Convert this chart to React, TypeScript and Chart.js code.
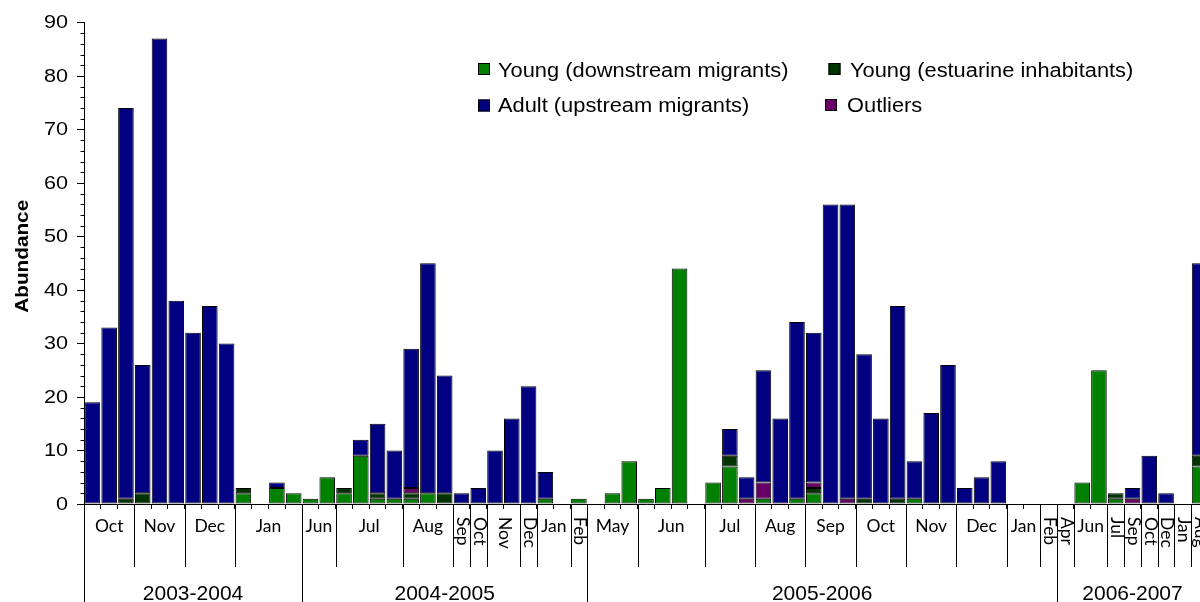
import React, { useEffect, useRef } from 'react';
import { Chart, registerables } from 'chart.js';

Chart.register(...registerables);

// ---- Data (one value per sampling bar, left to right) ----
const youngDown = [0, 0, 0, 0, 0, 0, 0, 0, 0, 2, 0, 3, 2,
  1, 5, 2, 9, 1, 1, 1, 2, 0, 0, 0, 0, 0, 0, 1, 0, 1,
  0, 2, 8, 1, 3, 44, 0, 4, 7, 0, 1, 0, 1, 2, 0, 0, 0, 0, 0, 1, 0, 0, 0, 0, 0, 0, 0, 0,
  0, 4, 25, 1, 0, 0, 0, 0, 7];
const youngEst = [0, 0, 1, 2, 0, 0, 0, 0, 0, 1, 0, 0, 0,
  0, 0, 1, 0, 1, 0, 1, 0, 2, 0, 0, 0, 0, 0, 0, 0, 0,
  0, 0, 0, 0, 0, 0, 0, 0, 2, 0, 0, 0, 0, 1, 0, 0, 1, 0, 1, 0, 0, 0, 0, 0, 0, 0, 0, 0,
  0, 0, 0, 1, 0, 0, 0, 0, 2];
const outliers = [0, 0, 0, 0, 0, 0, 0, 0, 0, 0, 0, 0, 0,
  0, 0, 0, 0, 0, 0, 1, 0, 0, 0, 0, 0, 0, 0, 0, 0, 0,
  0, 0, 0, 0, 0, 0, 0, 0, 0, 1, 3, 0, 0, 1, 0, 1, 0, 0, 0, 0, 0, 0, 0, 0, 0, 0, 0, 0,
  0, 0, 0, 0, 1, 0, 0, 0, 0];
const adult = [19, 33, 73, 24, 87, 38, 32, 37, 30, 0, 0, 1, 0,
  0, 0, 0, 3, 13, 9, 26, 43, 22, 2, 3, 10, 16, 22, 5, 0, 0,
  0, 0, 0, 0, 0, 0, 0, 0, 5, 4, 21, 16, 33, 28, 56, 55, 27, 16, 36, 7, 17, 26, 3, 5, 8, 0, 0, 0,
  0, 0, 0, 0, 2, 9, 2, 0, 36];

// month groups: [label, number of bars, vertical label]
const monthGroups: [string, number, boolean][] = [
  ['Oct', 3, false], ['Nov', 3, false], ['Dec', 3, false], ['Jan', 4, false],
  ['Jun', 2, false], ['Jul', 4, false], ['Aug', 3, false], ['Sep', 1, true], ['Oct', 1, true],
  ['Nov', 2, true], ['Dec', 1, true], ['Jan', 2, false], ['Feb', 1, true],
  ['May', 3, false], ['Jun', 4, false], ['Jul', 3, false], ['Aug', 3, false], ['Sep', 3, false],
  ['Oct', 3, false], ['Nov', 3, false], ['Dec', 3, false], ['Jan', 2, false], ['Feb', 1, true],
  ['Apr', 1, true], ['Jun', 2, false], ['Jul', 1, true], ['Sep', 1, true], ['Oct', 1, true],
  ['Dec', 1, true], ['Jan', 1, true], ['Aug', 1, true],
];
// year groups: [label, number of bars]
const yearGroups: [string, number][] = [
  ['2003-2004', 13], ['2004-2005', 17], ['2005-2006', 28], ['2006-2007', 9],
];
const yMax = 90;
const yStep = 10;
const yMinorStep = 2;
const yTitle = 'Abundance';

const GREEN = '#008000';
const DKGREEN = '#003300';
const PURPLE = '#660066';
const NAVY = '#000080';

const legendItems: { text: string; color: string; sx: number; sy: number; tx: number; ty: number }[] = [
  { text: 'Young (downstream migrants)', color: GREEN, sx: 478, sy: 63, tx: 498, ty: 76.5 },
  { text: 'Young (estuarine inhabitants)', color: DKGREEN, sx: 828.5, sy: 63, tx: 850, ty: 76.5 },
  { text: 'Adult (upstream migrants)', color: NAVY, sx: 478, sy: 99.5, tx: 498, ty: 111.5 },
  { text: 'Outliers', color: PURPLE, sx: 825, sy: 99, tx: 847, ty: 112 },
];

// category labels built from the groups
const categories: string[] = (() => {
  const out: string[] = [];
  let yi = 0, left = yearGroups[0][1];
  monthGroups.forEach(([m, n]) => {
    for (let k = 0; k < n; k++) {
      while (left === 0) { yi++; left = yearGroups[yi][1]; }
      out.push(m + ' ' + yearGroups[yi][0]);
      left--;
    }
  });
  return out;
})();

function drawText(ctx: CanvasRenderingContext2D, text: string, x: number, y: number, font: string,
  align: CanvasTextAlign, baseline: CanvasTextBaseline, sx = 1, rot = 0) {
  ctx.save();
  ctx.translate(x, y);
  if (rot) ctx.rotate(rot);
  ctx.scale(sx, 1);
  ctx.font = font;
  ctx.textAlign = align;
  ctx.textBaseline = baseline;
  ctx.fillStyle = '#000';
  ctx.fillText(text, 0, 0);
  ctx.restore();
}

function line(ctx: CanvasRenderingContext2D, x1: number, y1: number, x2: number, y2: number) {
  ctx.beginPath();
  ctx.moveTo(x1, y1);
  ctx.lineTo(x2, y2);
  ctx.stroke();
}

const decorPlugin = {
  id: 'decor',
  afterDraw(chart: any) {
    const { ctx, chartArea, scales } = chart;
    const x = scales.x, y = scales.y;
    const half = (x.getPixelForValue(1) - x.getPixelForValue(0)) / 2;
    const edge = (i: number) => Math.round(x.getPixelForValue(i) - half) + 0.5;
    const base = chartArea.bottom;
    const H = chart.height;
    ctx.save();
    ctx.strokeStyle = '#000';
    ctx.lineWidth = 1;

    // minor y ticks + y labels
    const axX = Math.round(chartArea.left) + 0.5;
    for (let v = 0; v <= yMax; v += yMinorStep) {
      if (v % yStep !== 0) {
        const py = Math.round(y.getPixelForValue(v)) + 0.5;
        line(ctx, axX - 4, py, axX, py);
      }
    }
    y.ticks.forEach((t: any) => {
      drawText(ctx, String(t.value), 68, y.getPixelForValue(t.value) + 1, '18px "Liberation Sans", Arial, sans-serif', 'right', 'middle', 1.2);
    });
    drawText(ctx, yTitle, 28, (chartArea.top + base) / 2 - 7, 'bold 18.5px "Liberation Sans", Arial, sans-serif', 'center', 'alphabetic', 1.12, -Math.PI / 2);

    // month groups
    let idx = 0;
    monthGroups.forEach(([label, n, vert]) => {
      const x1 = edge(idx + n);
      const cx = (x.getPixelForValue(idx) + x.getPixelForValue(idx + n - 1)) / 2;
      if (vert) {
        drawText(ctx, label, cx + 1, base + 13, '17.5px Lato, "Open Sans", sans-serif', 'left', 'middle', 1, Math.PI / 2);
      } else {
        drawText(ctx, label, cx, base + 27.5, '17.5px Lato, "Open Sans", sans-serif', 'center', 'alphabetic');
      }
      idx += n;
      line(ctx, x1, base, x1, base + 63);
    });

    // year groups
    idx = 0;
    line(ctx, edge(0), base, edge(0), H);
    yearGroups.forEach(([label, n]) => {
      const cx = (x.getPixelForValue(idx) + x.getPixelForValue(idx + n - 1)) / 2;
      drawText(ctx, label, cx, 600, '21px "Liberation Sans", Arial, sans-serif', 'center', 'alphabetic');
      idx += n;
      line(ctx, edge(idx), base, edge(idx), H);
    });

    // legend
    legendItems.forEach((it) => {
      ctx.fillStyle = it.color;
      ctx.fillRect(it.sx, it.sy, 12, 12);
      ctx.strokeStyle = '#000';
      ctx.strokeRect(it.sx + 0.5, it.sy + 0.5, 11, 11);
      drawText(ctx, it.text, it.tx, it.ty, '19.5px "Liberation Sans", Arial, sans-serif', 'left', 'alphabetic', 1.12);
    });
    ctx.restore();
  },
};

export default function App() {
  const ref = useRef<HTMLCanvasElement | null>(null);
  useEffect(() => {
    if (!ref.current) return;
    const z = (v: number) => (v === 0 ? null : v);
    const common = { borderColor: '#000', borderWidth: 1, borderSkipped: false, barPercentage: 0.93, categoryPercentage: 1, stack: 's' };
    const chart = new Chart(ref.current, {
      type: 'bar',
      data: {
        labels: categories,
        datasets: [
          { label: 'Young (downstream migrants)', data: youngDown.map(z), backgroundColor: GREEN, ...common },
          { label: 'Young (estuarine inhabitants)', data: youngEst.map(z), backgroundColor: DKGREEN, ...common },
          { label: 'Outliers', data: outliers.map(z), backgroundColor: PURPLE, ...common },
          { label: 'Adult (upstream migrants)', data: adult.map(z), backgroundColor: NAVY, ...common },
        ] as any,
      },
      options: {
        responsive: false,
        animation: false,
        devicePixelRatio: 1,
        layout: { padding: { top: 22.5, left: 0, right: 0, bottom: 0 } },
        plugins: { legend: { display: false }, tooltip: { enabled: false }, title: { display: false } },
        scales: {
          x: {
            stacked: true,
            offset: true,
            ticks: { display: false, autoSkip: false },
            grid: { display: true, offset: true, drawOnChartArea: false, drawTicks: true, tickLength: 5, color: '#000', lineWidth: 1 },
            border: { display: true, color: '#000', width: 1 },
            afterFit: (s: any) => { s.height = 98; },
          },
          y: {
            stacked: true,
            min: 0,
            max: yMax,
            ticks: { display: false, stepSize: yStep },
            grid: { display: true, drawOnChartArea: false, drawTicks: true, tickLength: 7, color: '#000', lineWidth: 1 },
            border: { display: true, color: '#000', width: 1 },
            afterFit: (s: any) => { s.width = 84; },
          },
        },
      } as any,
      plugins: [decorPlugin],
    });
    return () => chart.destroy();
  }, []);
  return (
    <div style={{ position: 'fixed', left: 0, top: 0, width: 1200, height: 602, overflow: 'hidden', background: '#fff' }}>
      <canvas ref={ref} width={1208} height={602} style={{ display: 'block' }} />
    </div>
  );
}
